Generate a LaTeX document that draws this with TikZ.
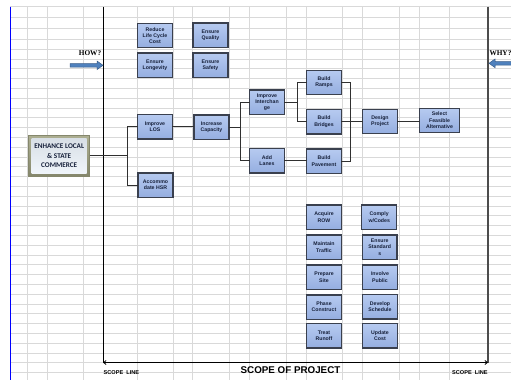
\documentclass[tikz,border=0pt]{standalone}
\usepackage{fontspec}
\setmainfont{Liberation Sans}
\newfontfamily\serifbold{Liberation Serif}
\newfontfamily\carlitofont{Carlito}
\usetikzlibrary{arrows.meta}
\definecolor{gridc}{HTML}{D9D9D9}
\definecolor{boxline}{HTML}{3A404E}
\definecolor{boxtop}{HTML}{B6CAF0}
\definecolor{boxbot}{HTML}{95AEE0}
\definecolor{boxtext}{HTML}{16203A}
\definecolor{arrowblue}{HTML}{4F81BD}
\definecolor{arrowedge}{HTML}{385D8A}
\definecolor{enhtop}{HTML}{ADAF92}
\definecolor{enhbot}{HTML}{85876C}
\definecolor{enhintop}{HTML}{D6DDE4}
\definecolor{enhinbot}{HTML}{F2F7FC}
\definecolor{linkc}{HTML}{303030}
\begin{document}
\begin{tikzpicture}[x=1pt,y=-1pt,
  box/.style={draw=boxline, line width=1.3pt, top color=boxtop, bottom color=boxbot,
    font=\fontsize{5.2}{6.2}\selectfont\bfseries, text=boxtext, align=center,
    inner sep=0pt, outer sep=0pt, minimum width=34.8pt, minimum height=24.3pt},
  enhbox/.style={top color=enhtop, bottom color=enhbot, draw=enhbot, line width=0.6pt,
    font=\carlitofont\fontsize{7.2}{9.5}\selectfont\bfseries, text=boxtext, align=center,
    inner sep=0pt, outer sep=0pt, minimum width=61pt, minimum height=41pt,
    path picture={\shade[top color=enhintop, bottom color=enhinbot]
      ([shift={(3pt,-3pt)}]path picture bounding box.north west) rectangle
      ([shift={(-3pt,3pt)}]path picture bounding box.south east);}},
  link/.style={draw=linkc, line width=0.8pt},
  gridline/.style={draw=gridc, line width=0.8pt},
  blockarrow/.style={fill=arrowblue, draw=arrowedge, line width=0.5pt},
  scopelbl/.style={font=\fontsize{5.6}{6}\selectfont\bfseries, text=black, inner sep=0pt}
]
\useasboundingbox (0,0) rectangle (511,380);
\fill[white] (0,0) rectangle (511,380);
% grid
\foreach \x in {27,47,83,137,173,192,229,249,286,306,342,362,399,419,449}
  \draw[gridline] (\x,6.7) -- (\x,380);
\foreach \y in {6.7,17.3,28.3}
  \draw[gridline] (10,\y) -- (511,\y);
\foreach \k in {0,...,34}
  \draw[gridline] (10,39.3+9.8*\k) -- (511,39.3+9.8*\k);
\draw[blue, line width=1pt] (10.5,6.7) -- (10.5,380);
% scope lines
\coordinate (sl1) at (103,6.7);
\coordinate (sl2) at (103,362.5);
\coordinate (sr1) at (488,6.7);
\coordinate (sr2) at (488,362.5);
\draw[black, line width=0.9pt] (sl1) -- (sl2);
\draw[black!70, line width=1.6pt] (sr1) -- (sr2);
\draw[black, line width=0.8pt, {Straight Barb[length=2.5pt,width=4pt]}-{Straight Barb[length=2.5pt,width=4pt]}] (sl2) -- (sr2);
\node[font=\fontsize{9.8}{10}\selectfont\bfseries, inner sep=0pt] (scopetxt) at (290.5,370) {SCOPE OF PROJECT};
\node[scopelbl, anchor=west] (slbl) at (103.5,373) {SCOPE\ \ LINE};
\node[scopelbl, anchor=east] (srlbl) at (487.8,373) {SCOPE\ \ LINE};
% how / why
\node[font=\serifbold\fontsize{7.3}{8}\selectfont\bfseries, inner sep=0pt] (how) at (90,53) {HOW?};
\node[font=\serifbold\fontsize{7.3}{8}\selectfont\bfseries, inner sep=0pt, anchor=west] (why) at (489.3,53) {WHY?};
\draw[blockarrow] (70,63.5) -- (97,63.5) -- (97,61) -- (103,65.3) -- (97,69.6) -- (97,67.1) -- (70,67.1) -- cycle;
\draw[blockarrow] (513,61.5) -- (495,61.5) -- (495,59) -- (489,63.3) -- (495,67.6) -- (495,65.1) -- (513,65.1) -- cycle;
% boxes
\node[box] (rlc) at (155,35.5) {Reduce\\Life Cycle\\Cost};
\node[box] (eq) at (210.5,35.2) {Ensure\\Quality};
\node[box] (elong) at (155,65.2) {Ensure\\Longevity};
\node[box] (esafe) at (210.5,65.2) {Ensure\\Safety};
\node[box] (los) at (155,126.8) {Improve\\LOS};
\node[box] (cap) at (211.5,127.2) {Increase\\Capacity};
\node[box] (hsr) at (155.5,185) {Accommo\\date HSR};
\node[enhbox] (enh) at (59.2,155.8) {ENHANCE LOCAL\\\& STATE\\COMMERCE};
\node[box] (intc) at (267,102.2) {Improve\\Interchan\\ge};
\node[box] (lanes) at (267,160.8) {Add\\Lanes};
\node[box] (ramps) at (324,82.5) {Build\\Ramps};
\node[box] (bridges) at (324,121.7) {Build\\Bridges};
\node[box] (pave) at (324,161.2) {Build\\Pavement};
\node[box] (design) at (380,121.3) {Design\\Project};
\node[box, minimum width=40pt] (sel) at (439.5,120.3) {Select\\Feasible\\Alternative};
\node[box] (acq) at (324,217.2) {Acquire\\ROW};
\node[box] (comply) at (379.2,217.2) {Comply\\w/Codes};
\node[box] (maint) at (324,247.2) {Maintain\\Traffic};
\node[box] (estd) at (379.7,247.2) {Ensure\\Standard\\s};
\node[box] (prep) at (324,277.2) {Prepare\\Site};
\node[box] (inv) at (380,277.2) {Involve\\Public};
\node[box] (phase) at (324,307) {Phase\\Construct};
\node[box] (dev) at (380,306.7) {Develop\\Schedule};
\node[box] (treat) at (324,335.8) {Treat\\Runoff};
\node[box] (upd) at (380,335.8) {Update\\Cost};
% connectors
\coordinate (j1) at (127,155.8);
\coordinate (j2) at (240,127.2);
\coordinate (j3) at (297,102.2);
\coordinate (j4) at (350,121.7);
\draw[link] (enh.east) -- (j1);
\draw[link] (j1) |- (los.west);
\draw[link] (j1) |- (hsr.west);
\draw[link] (los.east) -- (cap.west |- los.east);
\draw[link] (cap.east) -- (j2);
\draw[link] (j2) |- (intc.west);
\draw[link] (j2) |- (lanes.west);
\draw[link] (intc.east) -- (j3);
\draw[link] (j3) |- (ramps.west);
\draw[link] (j3) |- (bridges.west);
\draw[link] (lanes.east) -- (pave.west |- lanes.east);
\draw[link] (ramps.east) -| (j4);
\draw[link] (pave.east) -| (j4);
\draw[link] (bridges.east) -- (design.west |- bridges.east);
\draw[link] (design.east) -- (sel.west |- design.east);
\end{tikzpicture}
\end{document}
